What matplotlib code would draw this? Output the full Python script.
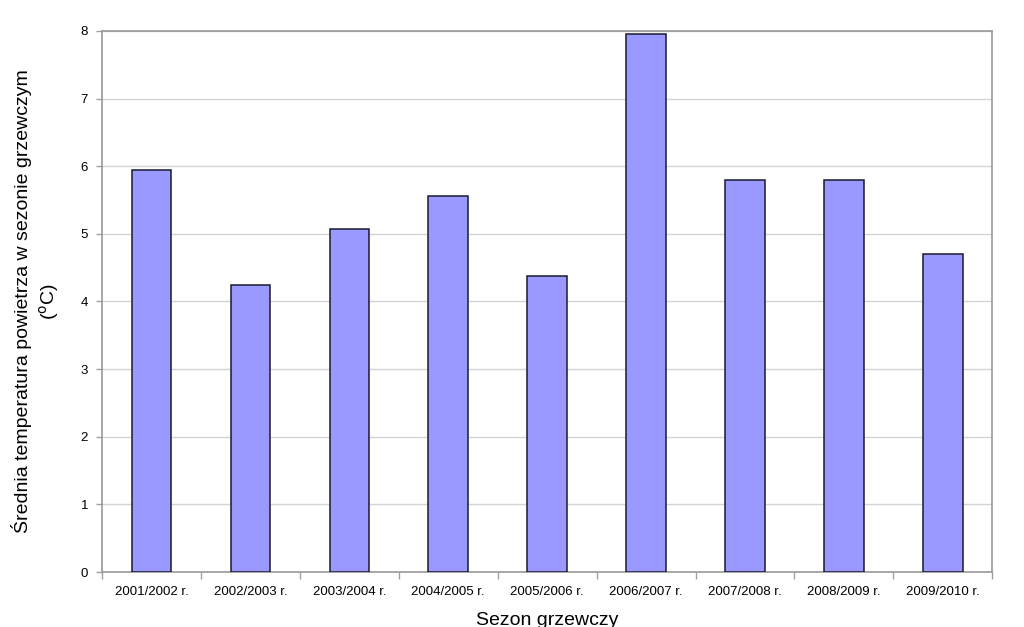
import matplotlib
matplotlib.use("Agg")
import matplotlib.pyplot as plt
import numpy as np

categories = ["2001/2002 r.", "2002/2003 r.", "2003/2004 r.", "2004/2005 r.", "2005/2006 r.",
              "2006/2007 r.", "2007/2008 r.", "2008/2009 r.", "2009/2010 r."]
values = [5.95, 4.245, 5.07, 5.56, 4.38, 7.96, 5.79, 5.80, 4.70]
yticks = [0, 1, 2, 3, 4, 5, 6, 7, 8]

plt.rcParams['font.family'] = ['Liberation Sans', 'DejaVu Sans']

fig = plt.figure(figsize=(10.24, 6.27), dpi=100)
ax = fig.add_axes([0.0996, 0.0877, 0.8694, 0.8629])

x = np.arange(len(categories))
ax.bar(x, values, width=0.4, color="#9999FF", edgecolor="#1a1a2e", linewidth=1.1, zorder=3)

ax.set_xlim(-0.5, len(categories) - 0.5)
ax.set_ylim(0, 8)
ax.set_yticks(yticks)
ax.set_yticklabels([str(v) for v in yticks], fontsize=9.5)
ax.grid(axis='y', color="#D4D4D4", linewidth=1.0, zorder=0)

ax.set_xticks(x)
ax.set_xticklabels(categories, fontsize=9.5)
ax.tick_params(axis='x', length=0, pad=10)
ax.set_xticks(np.arange(-0.5, len(categories), 1.0), minor=True)
ax.tick_params(axis='x', which='minor', length=5, color="#A0A0A0", width=1)
ax.tick_params(axis='y', length=4, color="#A0A0A0", width=1, pad=6)

for s in ax.spines.values():
    s.set_color("#999999")
    s.set_linewidth(1.2)

ax.set_xlabel("Sezon grzewczy", fontsize=14, labelpad=10)
ax.set_ylabel("Średnia temperatura powietrza w sezonie grzewczym\n($^{\\mathrm{o}}$C)", fontsize=14, labelpad=14,
              linespacing=1.3)

fig.savefig("out.png", dpi=100, facecolor="white")
